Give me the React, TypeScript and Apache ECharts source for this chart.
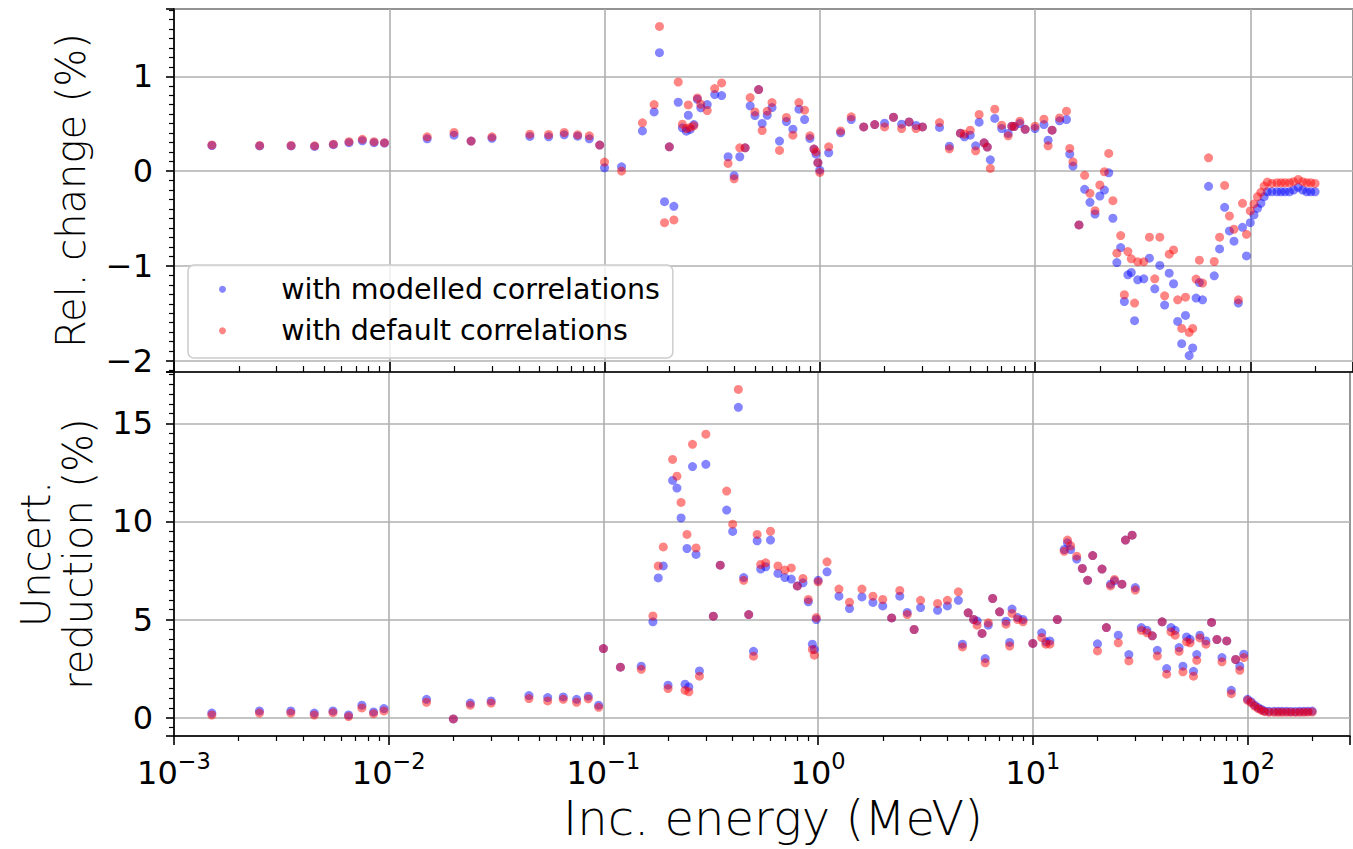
import React, { useEffect, useRef } from "react";
import * as echarts from "echarts";

// Incident energies (MeV)
const energies = [
  0.0015, 0.0025, 0.0035, 0.0045, 0.0055, 0.0065, 0.0075, 0.0085, 0.0095, 0.015,
  0.02, 0.024, 0.03, 0.045, 0.055, 0.065, 0.075, 0.085, 0.095, 0.1,
  0.12, 0.15, 0.17, 0.18, 0.19, 0.2, 0.21, 0.22, 0.23, 0.24,
  0.245, 0.25, 0.26, 0.27, 0.28, 0.3, 0.325, 0.35, 0.375, 0.4,
  0.425, 0.45, 0.475, 0.5, 0.52, 0.54, 0.57, 0.6, 0.65, 0.7,
  0.75, 0.8, 0.85, 0.9, 0.94, 0.96, 0.98, 1.0, 1.1, 1.25,
  1.4, 1.6, 1.8, 2.0, 2.2, 2.4, 2.6, 2.8, 3.0, 3.6,
  4.0, 4.5, 4.7, 5.0, 5.3, 5.5, 5.8, 6.0, 6.2, 6.5,
  7.0, 7.5, 7.8, 8.0, 8.5, 9.0, 10, 11, 11.5, 12,
  13, 14, 14.5, 15, 16, 17, 18, 19, 20, 21,
  22, 23, 24, 25, 26, 27, 28, 29, 30, 32,
  34, 36, 38, 40, 42, 44, 46, 48, 50, 52,
  54, 56, 58, 60, 64, 68, 72, 76, 80, 84,
  88, 92, 96, 100, 104, 108, 112, 116, 120, 126,
  133, 139, 145, 152, 159, 167, 175, 183, 191, 200,
];

// Relative change (%) - with modelled correlations
const relChangeModelled = [
  0.27, 0.265, 0.265, 0.26, 0.278, 0.3, 0.32, 0.3, 0.295, 0.34,
  0.379, 0.316, 0.345, 0.365, 0.361, 0.382, 0.368, 0.34, 0.274, 0.035,
  0.045, 0.424, 0.624, 1.249, -0.323, 0.256, -0.372, 0.726, 0.456, 0.421,
  0.589, 0.439, 0.491, 0.758, 0.667, 0.702, 0.807, 0.797, 0.151, -0.049,
  0.151, 0.245, 0.688, 0.586, 0.86, 0.502, 0.589, 0.67, 0.316, 0.523,
  0.442, 0.653, 0.544, 0.344, 0.232, 0.179, 0.089, 0.01, 0.193, 0.403,
  0.544, 0.466, 0.491, 0.505, 0.568, 0.495, 0.519, 0.481, 0.466, 0.46,
  0.263, 0.4, 0.361, 0.379, 0.266, 0.516, 0.298, 0.253, 0.119, 0.555,
  0.449, 0.397, 0.474, 0.47, 0.502, 0.44, 0.449, 0.491, 0.326, 0.432,
  0.53, 0.544, 0.179, 0.053, -0.568, -0.193, -0.33, -0.453, -0.263, -0.2,
  -0.018, -0.498, -0.965, -0.807, -1.376, -1.095, -1.07, -1.579, -1.147, -1.137,
  -0.919, -1.242, -0.996, -1.414, -1.077, -1.189, -1.586, -1.821, -1.523, -1.947,
  -1.867, -1.34, -1.176, -1.358, -0.161, -1.105, -0.821, -0.382, -0.632, -0.74,
  -1.393, -0.593, -0.895, -0.544, -0.463, -0.393, -0.34, -0.27, -0.218, -0.218,
  -0.218, -0.218, -0.218, -0.218, -0.2, -0.172, -0.2, -0.218, -0.218, -0.218,
];

// Relative change (%) - with default correlations
const relChangeDefault = [
  0.275, 0.27, 0.27, 0.266, 0.284, 0.31, 0.335, 0.31, 0.3, 0.361,
  0.407, 0.316, 0.361, 0.389, 0.386, 0.407, 0.382, 0.372, 0.274, 0.095,
  0.0, 0.509, 0.702, 1.526, -0.544, 0.256, -0.516, 0.94, 0.495, 0.449,
  0.698, 0.46, 0.477, 0.772, 0.705, 0.639, 0.87, 0.93, 0.081, -0.081,
  0.245, 0.245, 0.776, 0.624, 0.86, 0.428, 0.632, 0.723, 0.218, 0.565,
  0.379, 0.723, 0.642, 0.372, 0.232, 0.203, 0.089, -0.014, 0.256, 0.424,
  0.572, 0.466, 0.491, 0.466, 0.568, 0.449, 0.519, 0.449, 0.466, 0.512,
  0.235, 0.4, 0.39, 0.432, 0.214, 0.597, 0.298, 0.253, 0.028, 0.653,
  0.484, 0.372, 0.474, 0.47, 0.526, 0.44, 0.474, 0.547, 0.266, 0.432,
  0.561, 0.632, 0.239, 0.098, -0.568, -0.045, -0.235, -0.418, -0.147, -0.007,
  0.186, -0.312, -0.866, -0.681, -1.305, -0.849, -0.926, -1.393, -0.958, -0.958,
  -0.698, -1.137, -0.698, -1.316, -0.877, -0.832, -1.358, -1.66, -1.33, -1.702,
  -1.66, -1.14, -0.94, -1.182, 0.14, -0.954, -0.698, -0.151, -0.474, -0.614,
  -1.358, -0.34, -0.667, -0.421, -0.347, -0.27, -0.224, -0.158, -0.116, -0.13,
  -0.123, -0.123, -0.123, -0.123, -0.112, -0.088, -0.112, -0.123, -0.123, -0.13,
];

// Uncertainty reduction (%) - with modelled correlations
const reductionModelled = [
  0.23, 0.34, 0.34, 0.23, 0.34, 0.13, 0.63, 0.29, 0.46, 0.93,
  -0.07, 0.74, 0.85, 1.12, 1.02, 1.05, 0.93, 1.09, 0.63, 3.52,
  2.57, 2.62, 4.88, 7.12, 7.73, 1.65, 12.09, 11.7, 10.18, 1.7,
  8.62, 1.56, 12.8, 8.32, 2.38, 12.91, 5.17, 7.77, 10.58, 9.49,
  15.82, 7.14, 5.25, 3.38, 9.01, 7.57, 7.69, 9.05, 7.35, 7.14,
  7.06, 6.71, 6.87, 5.9, 3.74, 3.47, 5.0, 7.0, 7.43, 6.19,
  5.56, 6.15, 5.87, 5.69, 5.08, 6.19, 5.36, 4.49, 5.61, 5.47,
  5.69, 5.98, 3.74, 5.34, 5.0, 4.93, 4.29, 3.01, 4.71, 6.07,
  5.39, 4.91, 3.83, 5.53, 5.1, 5.0, 3.78, 4.32, 3.86, 3.91,
  5.0, 8.57, 8.91, 8.57, 8.08, 7.6, 7.0, 8.26, 3.76, 7.57,
  4.59, 6.8, 6.97, 4.2, 6.8, 9.05, 3.21, 9.3, 6.63, 4.59,
  4.45, 4.17, 3.43, 4.88, 2.5, 4.59, 4.45, 3.57, 2.62, 4.11,
  3.99, 2.36, 3.21, 4.2, 3.91, 4.85, 3.98, 3.06, 3.91, 1.39,
  2.96, 2.62, 3.23, 0.93, 0.8, 0.63, 0.51, 0.42, 0.34, 0.32,
  0.32, 0.32, 0.32, 0.32, 0.31, 0.31, 0.32, 0.32, 0.32, 0.33,
];

// Uncertainty reduction (%) - with default correlations
const reductionDefault = [
  0.13, 0.23, 0.23, 0.13, 0.25, 0.05, 0.49, 0.2, 0.34, 0.78,
  -0.07, 0.63, 0.74, 0.97, 0.85, 0.93, 0.78, 0.96, 0.52, 3.52,
  2.57, 2.46, 5.18, 7.73, 8.7, 1.48, 13.16, 12.31, 10.97, 1.39,
  9.34, 1.31, 13.93, 8.65, 2.11, 14.45, 5.17, 7.77, 11.55, 9.86,
  16.73, 7.0, 5.25, 3.13, 9.34, 7.81, 7.89, 9.5, 7.73, 7.52,
  7.63, 6.71, 7.09, 6.02, 3.47, 3.18, 5.1, 6.92, 7.94, 6.55,
  5.88, 6.55, 6.19, 6.02, 5.08, 6.48, 5.25, 4.49, 5.98, 5.82,
  5.98, 6.41, 3.6, 5.34, 5.0, 4.71, 4.29, 2.79, 4.83, 6.07,
  5.39, 4.76, 3.65, 5.31, 5.0, 4.88, 3.78, 4.08, 3.74, 3.74,
  5.0, 8.48, 9.05, 8.76, 8.23, 7.6, 7.0, 8.26, 3.4, 7.57,
  4.59, 6.71, 7.04, 3.81, 6.8, 9.05, 2.89, 9.3, 6.5, 4.45,
  4.32, 4.17, 3.14, 4.88, 2.21, 4.37, 4.2, 3.38, 2.33, 3.86,
  3.81, 2.11, 2.92, 4.06, 3.74, 4.85, 3.98, 2.84, 3.91, 1.22,
  2.96, 2.41, 3.06, 0.88, 0.75, 0.58, 0.46, 0.37, 0.3, 0.27,
  0.27, 0.27, 0.27, 0.27, 0.27, 0.26, 0.27, 0.27, 0.28, 0.28,
];

const seriesNames = ["with modelled correlations", "with default correlations"];
const xLimits = [1e-3, 300];
const topLimits = [-2.12, 1.71];
const bottomLimits = [-0.94, 17.62];
const minorMultipliers = [2, 3, 4, 5, 6, 7, 8, 9];
const decades = [-3, -2, -1, 0, 1, 2];

const FONT = "DejaVu Sans";
const BLUE = "rgba(0,0,255,0.6)";
const RED = "rgba(255,0,0,0.6)";
const GRID = "#b0b0b0";

const minorTickValues: number[] = [];
decades.forEach((d) => {
  minorMultipliers.forEach((m) => {
    const v = m * Math.pow(10, d);
    if (v < xLimits[1]) minorTickValues.push(v);
  });
});

function pairs(xs: number[], ys: number[]) {
  return xs.map((x, i) => [x, ys[i]]);
}

function powLabel(v: number) {
  const e = Math.log10(v);
  const r = Math.round(e);
  if (Math.abs(e - r) > 1e-6) return "";
  const exp = r < 0 ? "\u2212" + -r : String(r);
  return "{b|10}{s|" + exp + "}";
}

function intLabel(step: number) {
  return (v: number) => {
    const r = Math.round(v / step) * step;
    if (Math.abs(v - r) > 1e-6) return "";
    return r < 0 ? "\u2212" + Math.abs(r) : String(r);
  };
}

export default function App() {
  const ref = useRef<HTMLDivElement>(null);
  useEffect(() => {
    const chart = echarts.init(ref.current!, null, { renderer: "svg" });
    const gridLeft = 174;
    const gridWidth = 1182;
    const axisLineStyle = { color: "#000", width: 1.6 };
    const xMajorBase = (gridIndex: number, inside: boolean) => ({
      type: "log" as const,
      logBase: 10,
      gridIndex,
      min: xLimits[0],
      max: xLimits[1],
      position: "bottom" as const,
      axisLine: { show: true, onZero: false, lineStyle: axisLineStyle },
      axisTick: { show: true, inside, length: inside ? 10 : 9, lineStyle: { color: "#000", width: 1.6 } },
      splitLine: { show: true, lineStyle: { color: GRID, width: 1.6 } },
      minorTick: { show: false },
      minorSplitLine: { show: false },
    });
    const xMinor = (gridIndex: number, inside: boolean) => ({
      type: "log" as const,
      logBase: 10,
      gridIndex,
      min: xLimits[0],
      max: xLimits[1],
      position: "bottom" as const,
      axisLine: { show: false, onZero: false },
      axisLabel: { show: false },
      splitLine: { show: false },
      axisTick: {
        show: true,
        inside,
        length: inside ? 6 : 5,
        customValues: minorTickValues,
        lineStyle: { color: "#000", width: 1.2 },
      },
    });
    const yBase = (gridIndex: number, lim: number[], step: number) => ({
      type: "value" as const,
      gridIndex,
      min: lim[0],
      max: lim[1],
      splitNumber: 4,
      axisLine: { show: true, onZero: false, lineStyle: axisLineStyle },
      axisTick: { show: true, length: 8, lineStyle: { color: "#000", width: 1.6 } },
      minorTick: { show: true, splitNumber: 10, length: 5, lineStyle: { color: "#000", width: 1.2 } },
      splitLine: { show: true, lineStyle: { color: GRID, width: 1.6 } },
      axisLabel: {
        fontFamily: FONT,
        fontSize: 32,
        color: "#000",
        margin: 21,
        formatter: intLabel(step),
      },
      nameLocation: "middle" as const,
      nameTextStyle: { fontFamily: FONT, fontWeight: 200, fontSize: 40, color: "#000", lineHeight: 42 },
    });

    const option = {
      animation: false,
      backgroundColor: "#fff",
      grid: [
        { left: gridLeft, top: 9, width: gridWidth, height: 363, show: true, borderColor: "#000", borderWidth: 1.6, backgroundColor: "transparent" },
        { left: gridLeft, top: 372, width: gridWidth, height: 364, show: true, borderColor: "#000", borderWidth: 1.6, backgroundColor: "transparent" },
      ],
      xAxis: [
        { ...xMajorBase(0, true), axisLabel: { show: false } },
        {
          ...xMajorBase(1, false),
          axisLabel: {
            show: true,
            margin: 13,
            formatter: powLabel,
            rich: {
              b: { fontFamily: FONT, fontSize: 32, color: "#000", verticalAlign: "bottom", lineHeight: 40 },
              s: { fontFamily: FONT, fontSize: 22.5, color: "#000", verticalAlign: "top", lineHeight: 40 },
            },
          },
          name: "Inc. energy (MeV)",
          nameLocation: "middle",
          nameGap: 58,
          nameTextStyle: { fontFamily: FONT, fontWeight: 200, fontSize: 48, color: "#000", padding: [0, 0, 0, 22] },
        },
        xMinor(0, true),
        xMinor(1, false),
      ],
      yAxis: [
        { ...yBase(0, topLimits, 1), name: "Rel. change (%)", nameGap: 82 },
        { ...yBase(1, bottomLimits, 5), name: "Uncert.\nreduction (%)", nameGap: 75 },
      ],
      legend: {
        show: true,
        data: seriesNames,
        orient: "vertical",
        left: 188,
        top: 265,
        icon: "circle",
        itemWidth: 20,
        itemHeight: 7,
        itemGap: 11.4,
        selectedMode: false,
        padding: [9.3, 13, 12.3, 31],
        backgroundColor: "rgba(255,255,255,0.8)",
        borderColor: "#cccccc",
        borderWidth: 1.5,
        borderRadius: 6,
        textStyle: { fontFamily: FONT, fontSize: 28.5, color: "#000", lineHeight: 30, padding: [0, 0, 0, 43.7] },
      },
      series: [
        { name: seriesNames[0], type: "scatter", xAxisIndex: 0, yAxisIndex: 0, symbolSize: 9, itemStyle: { color: BLUE }, data: pairs(energies, relChangeModelled) },
        { name: seriesNames[1], type: "scatter", xAxisIndex: 0, yAxisIndex: 0, symbolSize: 9, itemStyle: { color: RED }, data: pairs(energies, relChangeDefault) },
        { name: seriesNames[0], type: "scatter", xAxisIndex: 1, yAxisIndex: 1, symbolSize: 9, itemStyle: { color: BLUE }, data: pairs(energies, reductionModelled) },
        { name: seriesNames[1], type: "scatter", xAxisIndex: 1, yAxisIndex: 1, symbolSize: 9, itemStyle: { color: RED }, data: pairs(energies, reductionDefault) },
      ],
    };
    chart.setOption(option as any);
    return () => chart.dispose();
  }, []);
  return <div ref={ref} style={{ position: "absolute", left: 0, top: 0, width: 1353, height: 849 }} />;
}
